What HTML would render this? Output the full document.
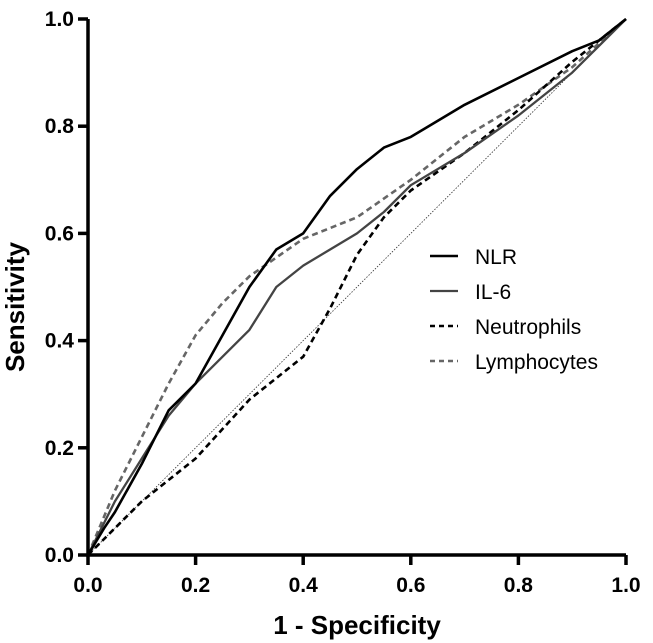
<!DOCTYPE html>
<html><head><meta charset="utf-8"><style>
body{margin:0;background:#fff;}
svg{display:block;font-family:"Liberation Sans",Arial,sans-serif;}
</style></head><body>
<svg id="chart" width="653" height="643" viewBox="0 0 653 643">
<g id="plot"></g>
</svg>
<script>
const xTicks=[0,0.2,0.4,0.6,0.8,1.0];
const yTicks=[0,0.2,0.4,0.6,0.8,1.0];
const seriesNames=["NLR","IL-6","Neutrophils","Lymphocytes"];
const nlrFpr=[0,0.03,0.05,0.1,0.15,0.2,0.25,0.3,0.35,0.4,0.45,0.5,0.55,0.6,0.7,0.8,0.9,0.95,1];
const nlrTpr=[0,0.05,0.08,0.17,0.27,0.32,0.41,0.5,0.57,0.6,0.67,0.72,0.76,0.78,0.84,0.89,0.94,0.96,1];
const il6Fpr=[0,0.05,0.1,0.15,0.2,0.3,0.35,0.4,0.45,0.5,0.55,0.6,0.7,0.8,0.9,1];
const il6Tpr=[0,0.1,0.18,0.26,0.32,0.42,0.5,0.54,0.57,0.6,0.64,0.69,0.75,0.82,0.9,1];
const neuFpr=[0,0.05,0.1,0.2,0.3,0.4,0.45,0.5,0.55,0.6,0.7,0.8,0.9,1];
const neuTpr=[0,0.05,0.1,0.18,0.29,0.37,0.46,0.56,0.63,0.68,0.75,0.83,0.92,1];
const lymFpr=[0,0.05,0.1,0.15,0.2,0.25,0.3,0.4,0.5,0.6,0.7,0.8,0.9,1];
const lymTpr=[0,0.12,0.22,0.32,0.41,0.47,0.52,0.59,0.63,0.7,0.78,0.84,0.91,1];

const X0=88,X1=626,Y0=555,Y1=19;
const sx=v=>X0+v*(X1-X0), sy=v=>Y0-v*(Y0-Y1);
const NS="http://www.w3.org/2000/svg";
const g=document.getElementById('plot');
function mk(t,a,p){const e=document.createElementNS(NS,t);for(const k in a)e.setAttribute(k,a[k]);(p||g).appendChild(e);return e;}

const diag=mk('line',{x1:sx(0),y1:sy(0),x2:sx(1),y2:sy(1),stroke:'#333','stroke-width':0.8,'stroke-dasharray':'1.5,1.5'});



const styles=[
 {c:'#000',w:2.6,d:''},
 {c:'#444',w:2.3,d:''},
 {c:'#000',w:2.6,d:'6,4'},
 {c:'#666',w:2.6,d:'6,4'}];
const data=[[nlrFpr,nlrTpr],[il6Fpr,il6Tpr],[neuFpr,neuTpr],[lymFpr,lymTpr]];
const ids=['nlr','il6','neutrophils','lymphocytes'];
[3,2,1,0].forEach(i=>{
 const [fx,ty]=data[i];
 const pts=fx.map((v,j)=>sx(v).toFixed(1)+','+sy(ty[j]).toFixed(1)).join(' ');
 const p=mk('polyline',{points:pts,fill:'none',stroke:styles[i].c,'stroke-width':styles[i].w,'stroke-dasharray':styles[i].d,'stroke-linejoin':'round'});
 
 
});

const ax=mk('path',{d:`M${X0},${Y1} V${Y0} H${X1}`,fill:'none',stroke:'#000','stroke-width':3.5});


xTicks.forEach(t=>{
 mk('line',{x1:sx(t),y1:Y0,x2:sx(t),y2:Y0+10,stroke:'#000','stroke-width':3.5});
 const tx=mk('text',{x:sx(t),y:Y0+37,'text-anchor':'middle','font-size':21,'font-weight':'bold'});
 tx.textContent=t.toFixed(1);
 
 
});
yTicks.forEach(t=>{
 mk('line',{x1:X0-10,y1:sy(t),x2:X0,y2:sy(t),stroke:'#000','stroke-width':3.5});
 const tx=mk('text',{x:X0-14,y:sy(t)+7,'text-anchor':'end','font-size':21,'font-weight':'bold'});
 tx.textContent=t.toFixed(1);
 
 
});
const xt=mk('text',{x:357,y:634,'text-anchor':'middle','font-size':26,'font-weight':'bold'});
xt.textContent='1 - Specificity';


const yt=mk('text',{x:0,y:0,'text-anchor':'middle','font-size':26,'font-weight':'bold',transform:`translate(24,${(Y0+Y1)/2+20}) rotate(-90)`});
yt.textContent='Sensitivity';



seriesNames.forEach((n,i)=>{
 const y=256+i*35;
 const l=mk('line',{x1:430,y1:y,x2:458,y2:y,stroke:styles[i].c,'stroke-width':styles[i].w,'stroke-dasharray':styles[i].d?'5,4':''});
 
 
 const t=mk('text',{x:475,y:y+8,'font-size':21,fill:'#000'});
 t.textContent=n;
 
 
});
</script>
</body></html>
